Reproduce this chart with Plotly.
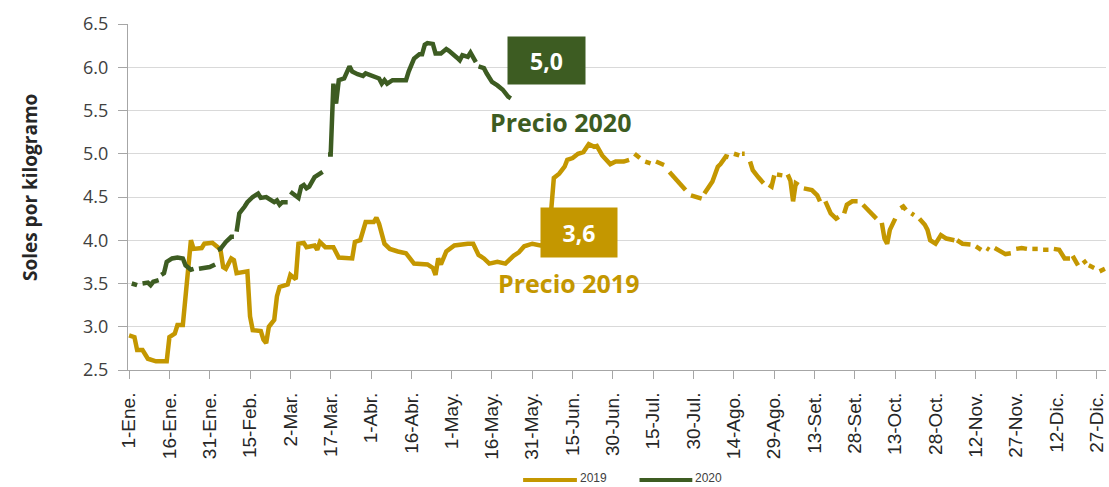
import plotly.graph_objects as go

GOLD = "#C49700"
GREEN = "#3D5C22"

tick_days = list(range(0, 361, 15))
tick_labels = ["1-Ene.", "16-Ene.", "31-Ene.", "15-Feb.", "2-Mar.", "17-Mar.", "1-Abr.",
               "16-Abr.", "1-May.", "16-May.", "31-May.", "15-Jun.", "30-Jun.", "15-Jul.",
               "30-Jul.", "14-Ago.", "29-Ago.", "13-Set.", "28-Set.", "13-Oct.", "28-Oct.",
               "12-Nov.", "27-Nov.", "12-Dic.", "27-Dic."]
y_ticks = [2.5, 3.0, 3.5, 4.0, 4.5, 5.0, 5.5, 6.0, 6.5]

# 2019 daily prices (None = no data)
days_2019 = [0, 2, 3, 5, 7, 10, 14, 15, 17, 18, 20, 21, 22, 23, 24, 27, 28, 31, 33, 34,
             35, 36, 38, 39, 40, 44, 45, 46, 49, 50, 51, 52, 54, 55, 56, 59, 60, 62, 63, 65,
             66, 69, 70, 71, 73, 76, 78, 83, 84, 86, 88, 91, 92, 93, 95, 97, 100, 103, 106, 111,
             113, 114, 115, 116, 118, 121, 126, 128, 130, 132, 134, 137, 140, 143, 145, 147, 150, 153, 156, 157,
             158, 160, 162, 163, 165, 167, 169, 171, 173, 174, 176, 179, 181, 184, 186, None,
             188, 190, None, 192, 194, None, 196, 199, None, 201, 205, 207, None, 209, 213, None,
             214, 217, 219, 220, 222, 223, None, 225, 227, None, 228, 229, None, 231, 232, 234, 236, None,
             238, 239, 240, None, 241, 243, None, 245, 246, 247, 248, 249, None, 251, 254, 256, 257, None,
             259, 261, 263, 264, None, 266, 267, 269, 271, None, 273, 275, 278, None,
             280, 281, 282, 283, 285, None, 287, 288, 289, None, 291, 292, None,
             294, 296, 297, 298, 300, 302, 304, 307, None, 308, 310, 313, None, 315, 317, None,
             319, 320, None, 322, 324, 326, 328, None, 330, 332, 334, None, 336, 338, None,
             340, 342, None, 344, 346, 348, 350, None, 351, 353, None, 355, 356, None,
             357, 359, None, 361, 363]
price_2019 = [2.90, 2.88, 2.73, 2.73, 2.63, 2.60, 2.60, 2.88, 2.92, 3.02, 3.02, 3.35, 3.62, 4.00, 3.90, 3.91, 3.96, 3.97, 3.92, 3.89,
              3.69, 3.67, 3.79, 3.77, 3.62, 3.64, 3.12, 2.96, 2.95, 2.85, 2.81, 3.00, 3.08, 3.35, 3.46, 3.49, 3.60, 3.55, 3.96, 3.97,
              3.92, 3.94, 3.89, 3.98, 3.92, 3.92, 3.80, 3.79, 3.98, 4.00, 4.21, 4.21, 4.26, 4.19, 3.96, 3.90, 3.87, 3.85, 3.73, 3.72,
              3.68, 3.60, 3.79, 3.72, 3.87, 3.94, 3.96, 3.96, 3.83, 3.79, 3.73, 3.75, 3.73, 3.82, 3.86, 3.93, 3.96, 3.94, 3.96, 4.40,
              4.72, 4.77, 4.85, 4.93, 4.95, 5.00, 5.02, 5.11, 5.08, 5.09, 4.98, 4.88, 4.91, 4.91, 4.93, None,
              5.00, 4.95, None, 4.91, 4.89, None, 4.91, 4.87, None, 4.79, 4.66, 4.58, None, 4.52, 4.48, None,
              4.54, 4.68, 4.85, 4.88, 4.97, 4.96, None, 5.00, 4.98, None, 5.00, 5.00, None, 4.91, 4.81, 4.73, 4.66, None,
              4.64, 4.62, 4.75, None, 4.76, 4.75, None, 4.76, 4.69, 4.45, 4.66, 4.64, None, 4.60, 4.58, 4.52, 4.45, None,
              4.45, 4.31, 4.25, 4.27, None, 4.31, 4.41, 4.45, 4.45, None, 4.41, 4.35, 4.25, None,
              4.20, 4.02, 3.96, 4.12, 4.25, None, 4.37, 4.39, 4.35, None, 4.31, 4.29, None,
              4.25, 4.18, 4.12, 4.00, 3.96, 4.06, 4.02, 4.00, None, 4.00, 3.96, 3.95, None, 3.93, 3.89, None,
              3.91, 3.89, None, 3.91, 3.87, 3.84, 3.85, None, 3.90, 3.91, 3.90, None, 3.90, 3.90, None,
              3.89, 3.89, None, 3.90, 3.89, 3.79, 3.79, None, 3.82, 3.71, None, 3.77, 3.73, None,
              3.71, 3.68, None, 3.64, 3.67]

# 2020 daily prices (None = no data)
days_2020 = [1, 3, None, 5, 7, 8, 9, 11, None, 12, 13, 14, 16, 18, 20, 21, 23, 24, None,
             26, 29, 30, 32, None, 33, 34, 36, 38, 39, None, 40, 41, 43, 44, 46, 48, 49, 51, 54, 55,
             56, 57, 59, None, 60, 62, 63, 64, 65, 66, 67, 69, 70, 71, 72, None, 74, 75, 76, 77, 78,
             80, 82, 83, 85, 87, 88, 90, 93, 94, 95, 96, 98, 103, 104, 106, 108, 109, 110, 111, 113,
             114, 116, 118, 119, 122, 123, 124, 126, 127, 129, None, 130, 132, 133, 135, 137, 139, 141, 142]
price_2020 = [3.50, 3.48, None, 3.50, 3.51, 3.48, 3.52, 3.54, None, 3.60, 3.62, 3.75, 3.79, 3.80, 3.79, 3.71, 3.66, 3.67, None,
              3.67, 3.69, 3.69, 3.72, None, 3.89, 3.90, 3.98, 4.04, 4.04, None, 4.10, 4.31, 4.39, 4.44, 4.50, 4.54, 4.49, 4.50, 4.44, 4.46,
              4.41, 4.44, 4.44, None, 4.56, 4.52, 4.49, 4.62, 4.64, 4.60, 4.62, 4.73, 4.75, 4.78, 4.79, None, 4.99, 4.99, 5.81, 5.58, 5.85,
              5.87, 6.01, 5.95, 5.92, 5.90, 5.93, 5.91, 5.87, 5.81, 5.85, 5.81, 5.85, 5.85, 5.95, 6.10, 6.15, 6.15, 6.26, 6.28, 6.27,
              6.16, 6.16, 6.21, 6.19, 6.11, 6.08, 6.14, 6.12, 6.17, 6.06, None, 6.01, 5.99, 5.93, 5.83, 5.79, 5.74, 5.66, 5.64]

fig = go.Figure()
fig.add_trace(go.Scatter(x=days_2019, y=price_2019, mode="lines", name="2019",
                         line=dict(color=GOLD, width=4.5), connectgaps=False))
fig.add_trace(go.Scatter(x=days_2020, y=price_2020, mode="lines", name="2020",
                         line=dict(color=GREEN, width=4.5), connectgaps=False))

# value boxes and series labels
fig.add_annotation(x=155.3, y=6.08, text="<b>5,0</b>", showarrow=False, bgcolor=GREEN,
                   width=77, height=47, borderpad=0, font=dict(color="white", size=23, family="Open Sans"),
                   xanchor="center", yanchor="middle")
fig.add_annotation(x=160.3, y=5.37, text="<b>Precio 2020</b>", showarrow=False,
                   font=dict(color=GREEN, size=25, family="Open Sans"), xanchor="center", yanchor="middle")
fig.add_annotation(x=167.4, y=4.09, text="<b>3,6</b>", showarrow=False, bgcolor=GOLD,
                   width=76, height=49, borderpad=0, font=dict(color="white", size=23, family="Open Sans"),
                   xanchor="center", yanchor="middle")
fig.add_annotation(x=163.3, y=3.506, text="<b>Precio 2019</b>", showarrow=False,
                   font=dict(color=GOLD, size=25, family="Open Sans"), xanchor="center", yanchor="middle")

# y-axis title
fig.add_annotation(xref="paper", yref="paper", x=-0.1002, y=0.526, text="<b>Soles por kilogramo</b>",
                   textangle=-90, showarrow=False, xanchor="center", yanchor="middle",
                   font=dict(family="Open Sans", size=19, color="#262626"))

# legend (drawn as swatches + labels below the axis)
legend_items = [("2019", GOLD, 0.404, 0.459), ("2020", GREEN, 0.523, 0.577)]
for name, col, x0, x1 in legend_items:
    fig.add_shape(type="line", xref="paper", yref="paper", x0=x0, x1=x1, y0=-0.318, y1=-0.318,
                  line=dict(color=col, width=4))
    fig.add_annotation(xref="paper", yref="paper", x=x1 + 0.002, y=-0.313, text=name, showarrow=False,
                       xanchor="left", yanchor="middle", borderpad=0,
                       font=dict(family="Liberation Sans", size=12, color="#404040"))

fig.update_layout(
    width=1109, height=487,
    margin=dict(l=128, r=3, t=24, b=117),
    plot_bgcolor="white", paper_bgcolor="white",
    showlegend=False,
    xaxis=dict(range=[-0.4, 363.4], tickmode="array", tickvals=tick_days, ticktext=tick_labels,
               tickangle=-90, ticks="outside", ticklen=8, tickcolor="#a6a6a6",
               showline=True, linecolor="#a6a6a6", linewidth=1, showgrid=False, zeroline=False,
               automargin=False, ticklabelstandoff=6,
               tickfont=dict(family="Liberation Sans", size=19, color="#262626")),
    yaxis=dict(range=[2.5, 6.5], tickmode="array", tickvals=y_ticks,
               ticktext=["%.1f" % v for v in y_ticks],
               ticks="outside", ticklen=9, tickcolor="#a6a6a6",
               showline=True, linecolor="#a6a6a6", linewidth=1,
               showgrid=True, gridcolor="#d9d9d9", gridwidth=1, zeroline=False,
               automargin=False, ticklabelstandoff=6,
               tickfont=dict(family="Open Sans", size=18, color="#404040")),
)

fig.write_html("out.html", config={"displayModeBar": False},
               post_script="document.body.style.margin='0px';document.body.style.overflow='hidden';")
